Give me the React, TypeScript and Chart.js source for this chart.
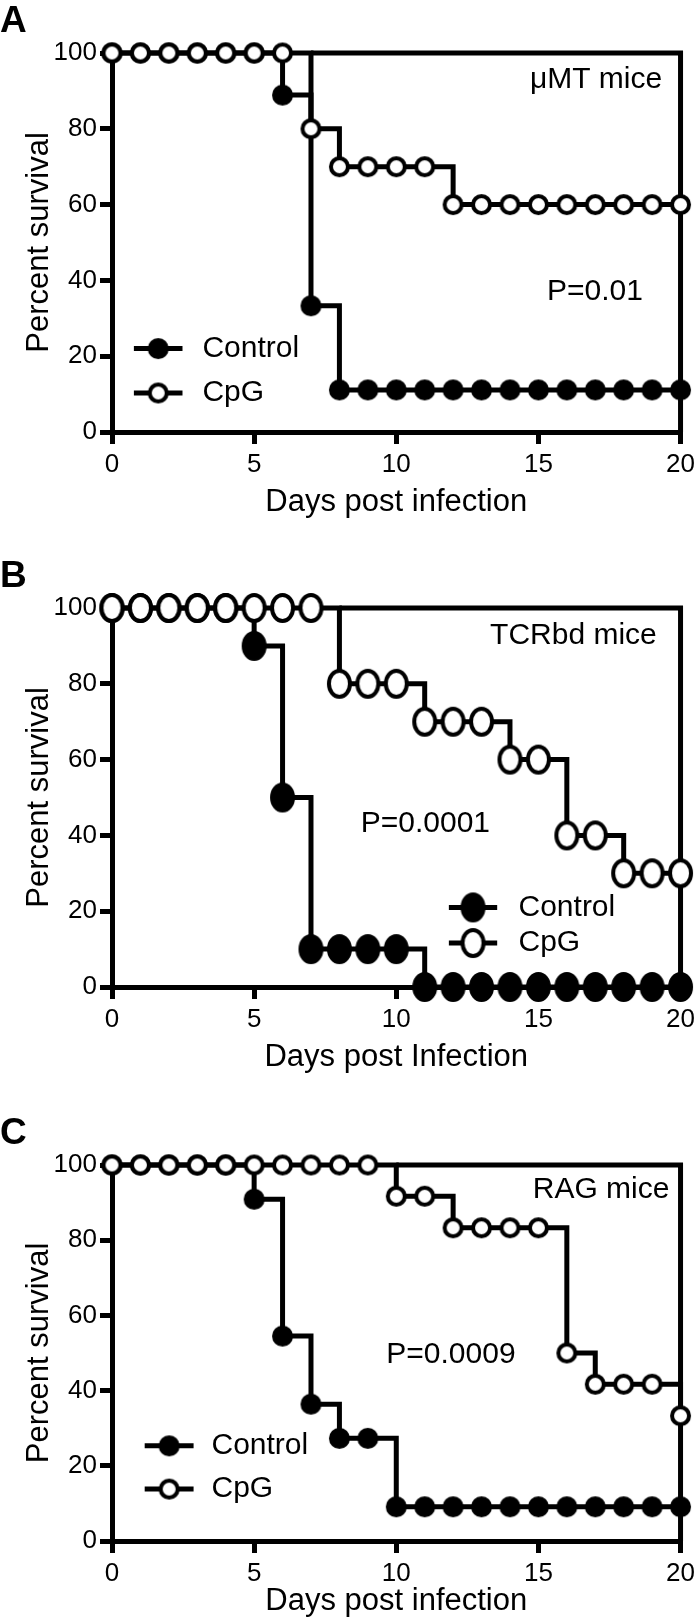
import React, { useEffect, useRef } from "react";
import { Chart, registerables } from "chart.js";

Chart.register(...registerables);

// ---------- data ----------
const days = [0, 1, 2, 3, 4, 5, 6, 7, 8, 9, 10, 11, 12, 13, 14, 15, 16, 17, 18, 19, 20];

const controlA = [100, 100, 100, 100, 100, 100, 88.9, 33.3, 11.1, 11.1, 11.1, 11.1, 11.1, 11.1, 11.1, 11.1, 11.1, 11.1, 11.1, 11.1, 11.1];
const cpgA = [100, 100, 100, 100, 100, 100, 100, 80, 70, 70, 70, 70, 60, 60, 60, 60, 60, 60, 60, 60, 60];

const controlB = [100, 100, 100, 100, 100, 90, 50, 10, 10, 10, 10, 0, 0, 0, 0, 0, 0, 0, 0, 0, 0];
const cpgB = [100, 100, 100, 100, 100, 100, 100, 100, 80, 80, 80, 70, 70, 70, 60, 60, 40, 40, 30, 30, 30];

const controlC = [100, 100, 100, 100, 100, 90.9, 54.5, 36.4, 27.3, 27.3, 9.1, 9.1, 9.1, 9.1, 9.1, 9.1, 9.1, 9.1, 9.1, 9.1, 9.1];
const cpgC = [100, 100, 100, 100, 100, 100, 100, 100, 100, 100, 91.7, 91.7, 83.3, 83.3, 83.3, 83.3, 50, 41.7, 41.7, 41.7, 33.3];

const xTicks = [0, 5, 10, 15, 20];
const yTicks = [0, 20, 40, 60, 80, 100];
const seriesNames = ["Control", "CpG"];

const FONT = '"Liberation Sans", Arial, Helvetica, sans-serif';

type PanelCfg = {
  letter: string;
  strain: string;
  pText: string;
  xTitle: string;
  control: number[];
  cpg: number[];
  top: number;
  height: number;
  plotH: number;
  xTitlePad: number;
  markerW: number;
  markerH: number;
  strainPos: [number, number];
  pPos: [number, number];
  legend: { x1: number; x2: number; xt: number; y: [number, number] };
};

const panels: PanelCfg[] = [
  {
    letter: "A", strain: "\u03bcMT mice", pText: "P=0.01", xTitle: "Days post infection",
    control: controlA, cpg: cpgA, top: 0, height: 540, plotH: 379, xTitlePad: 19,
    markerW: 17, markerH: 17,
    strainPos: [14.7, 92.9], pPos: [15.3, 37],
    legend: { x1: 0.77, x2: 2.48, xt: 3.18, y: [22, 10.3] },
  },
  {
    letter: "B", strain: "TCRbd mice", pText: "P=0.0001", xTitle: "Days post Infection",
    control: controlB, cpg: cpgB, top: 555, height: 540, plotH: 379, xTitlePad: 19,
    markerW: 21, markerH: 26,
    strainPos: [13.3, 92.6], pPos: [8.75, 43],
    legend: { x1: 11.85, x2: 13.55, xt: 14.3, y: [21, 11.6] },
  },
  {
    letter: "C", strain: "RAG mice", pText: "P=0.0009", xTitle: "Days post infection",
    control: controlC, cpg: cpgC, top: 1112, height: 506, plotH: 376, xTitlePad: -2,
    markerW: 17, markerH: 17,
    strainPos: [14.8, 93.3], pPos: [9.65, 49.5],
    legend: { x1: 1.15, x2: 2.87, xt: 3.5, y: [25.3, 13.8] },
  },
];

const LW = 5;
const MARKER_LW = 4;
const PLOT_TOP = 53;
const Y_AXIS_W = 112;

function makeMarker(w: number, h: number, filled: boolean, lw: number) {
  const c = document.createElement("canvas");
  const W = Math.ceil(w + lw) + 2;
  const H = Math.ceil(h + lw) + 2;
  c.width = W;
  c.height = H;
  const ctx = c.getContext("2d")!;
  ctx.beginPath();
  ctx.ellipse(W / 2, H / 2, w / 2, h / 2, 0, 0, Math.PI * 2);
  ctx.fillStyle = filled ? "#000" : "#fff";
  ctx.fill();
  ctx.lineWidth = lw;
  ctx.strokeStyle = "#000";
  ctx.stroke();
  return c;
}

function Panel({ cfg }: { cfg: PanelCfg }) {
  const ref = useRef<HTMLCanvasElement>(null);
  useEffect(() => {
    if (!ref.current) return;
    const filled = makeMarker(cfg.markerW, cfg.markerH, true, MARKER_LW);
    const open = makeMarker(cfg.markerW, cfg.markerH, false, MARKER_LW);
    const ctrlPts = days.map((d, i) => ({ x: d, y: cfg.control[i] }));
    const cpgPts = days.map((d, i) => ({ x: d, y: cfg.cpg[i] }));
    const yMax = yTicks[yTicks.length - 1];
    const yMin = yTicks[0];
    const xMax = days[days.length - 1];
    const firstDrop = cfg.cpg.findIndex((v) => v < yMax);
    const frame = [
      { x: days[firstDrop], y: yMax },
      { x: xMax, y: yMax },
      { x: xMax, y: yMin },
    ];
    const xH = cfg.height - PLOT_TOP - cfg.plotH;

    const deco = {
      id: "deco",
      afterDraw(chart: any) {
        const ctx = chart.ctx;
        const xs = chart.scales.x;
        const ys = chart.scales.y;
        ctx.save();
        ctx.fillStyle = "#000";
        ctx.font = `bold 37px ${FONT}`;
        ctx.textAlign = "left";
        ctx.textBaseline = "alphabetic";
        ctx.fillText(cfg.letter, 0, chart.chartArea.top - 21);

        ctx.font = `30px ${FONT}`;
        ctx.textBaseline = "middle";
        ctx.fillText(cfg.strain, xs.getPixelForValue(cfg.strainPos[0]), ys.getPixelForValue(cfg.strainPos[1]));
        ctx.fillText(cfg.pText, xs.getPixelForValue(cfg.pPos[0]), ys.getPixelForValue(cfg.pPos[1]));

        const lg = cfg.legend;
        const x1 = xs.getPixelForValue(lg.x1);
        const x2 = xs.getPixelForValue(lg.x2);
        const xt = xs.getPixelForValue(lg.xt);
        [filled, open].forEach((m, i) => {
          const y = ys.getPixelForValue(lg.y[i]);
          ctx.beginPath();
          ctx.lineWidth = LW;
          ctx.strokeStyle = "#000";
          ctx.moveTo(x1, y);
          ctx.lineTo(x2, y);
          ctx.stroke();
          ctx.drawImage(m, (x1 + x2) / 2 - m.width / 2, y - m.height / 2);
          ctx.fillText(seriesNames[i], xt, y);
        });
        ctx.restore();
      },
    };

    const chart = new Chart(ref.current, {
      type: "line",
      data: {
        datasets: [
          {
            label: seriesNames[1],
            data: cpgPts,
            stepped: true,
            borderColor: "#000",
            borderWidth: LW,
            pointStyle: open as any,
            pointRadius: 10,
            clip: false as any,
            fill: false,
          },
          {
            label: seriesNames[0],
            data: ctrlPts,
            stepped: true,
            borderColor: "#000",
            borderWidth: LW,
            pointStyle: filled as any,
            pointRadius: 10,
            clip: false as any,
            fill: false,
          },
          {
            label: "frame",
            data: frame,
            borderColor: "#000",
            borderWidth: LW,
            pointRadius: 0,
            clip: false as any,
            fill: false,
          },
        ],
      },
      options: {
        responsive: false,
        maintainAspectRatio: false,
        animation: false,
        events: [],
        layout: { padding: { top: PLOT_TOP, right: 16, left: 0, bottom: 0 } },
        plugins: { legend: { display: false }, tooltip: { enabled: false } },
        scales: {
          x: {
            type: "linear",
            min: xTicks[0],
            max: xTicks[xTicks.length - 1],
            afterBuildTicks: (s: any) => {
              s.ticks = xTicks.map((v) => ({ value: v }));
            },
            ticks: {
              color: "#000",
              font: { family: FONT, size: 26 },
              padding: 5,
              maxRotation: 0,
              autoSkip: false,
            },
            grid: { display: true, drawOnChartArea: false, drawTicks: true, tickLength: 12, lineWidth: LW, color: "#000" },
            border: { display: true, width: LW, color: "#000" },
            title: {
              display: true,
              text: cfg.xTitle,
              color: "#000",
              font: { family: FONT, size: 31 },
              padding: { top: 0, bottom: cfg.xTitlePad },
            },
            afterFit: (s: any) => {
              s.height = xH;
            },
          },
          y: {
            type: "linear",
            min: yTicks[0],
            max: yTicks[yTicks.length - 1],
            afterBuildTicks: (s: any) => {
              s.ticks = yTicks.map((v) => ({ value: v }));
            },
            ticks: {
              color: "#000",
              font: { family: FONT, size: 26 },
              padding: 3,
              autoSkip: false,
            },
            grid: { display: true, drawOnChartArea: false, drawTicks: true, tickLength: 12, lineWidth: LW, color: "#000" },
            border: { display: true, width: LW, color: "#000" },
            title: {
              display: true,
              text: "Percent survival",
              color: "#000",
              font: { family: FONT, size: 31 },
              padding: { top: 21, bottom: 0 },
            },
            afterFit: (s: any) => {
              s.width = Y_AXIS_W;
            },
          },
        },
      },
      plugins: [deco],
    } as any);
    return () => chart.destroy();
  }, [cfg]);

  return (
    <canvas
      ref={ref}
      width={700}
      height={cfg.height}
      style={{ position: "absolute", left: 0, top: cfg.top, display: "block" }}
    />
  );
}

export default function App() {
  return (
    <div style={{ position: "absolute", left: 0, top: 0, width: 700, height: 1618, background: "#fff", overflow: "hidden" }}>
      {panels.map((p) => (
        <Panel key={p.letter} cfg={p} />
      ))}
    </div>
  );
}
